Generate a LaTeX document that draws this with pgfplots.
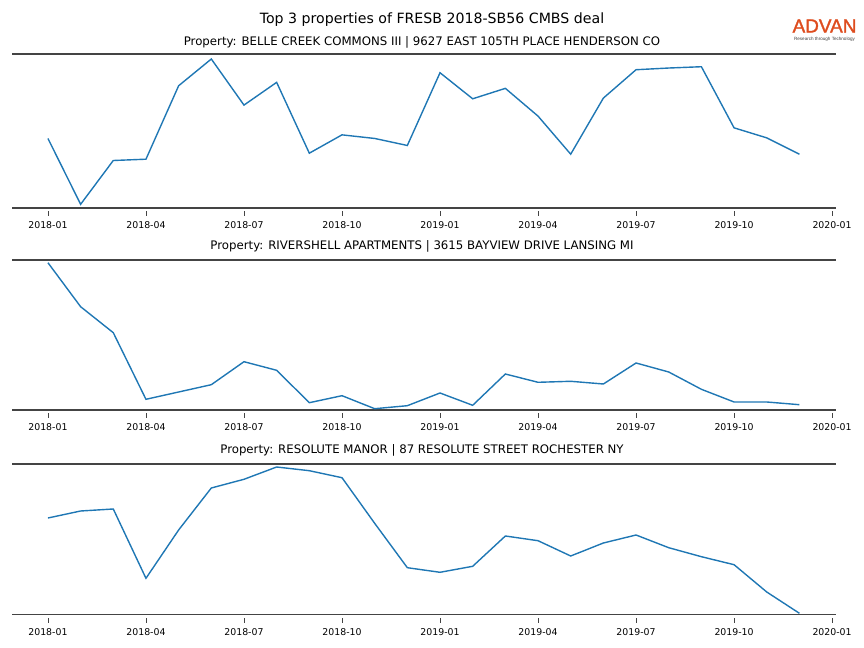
\documentclass[border=0pt]{standalone}
\usepackage{fontspec}
\setmainfont{DejaVu Sans}
\newfontfamily\logofont[FakeBold=1.6]{Liberation Sans}
\newfontfamily\logosub{Liberation Sans}
\usepackage{pgfplots}
\pgfplotsset{compat=1.18}
\definecolor{tabblue}{RGB}{31,119,180}
\definecolor{spinegray}{RGB}{68,68,68}
\definecolor{advanred}{RGB}{222,76,30}

% monthly values, 2018-01 (m=0) to 2019-12 (m=23), arbitrary units
\pgfplotstableread{
m v
0 69.4
1 3.7
2 47.4
3 48.7
4 122
5 148.7
6 102.7
7 125.4
8 54.7
9 73
10 69.4
11 62.4
12 135
13 109
14 119.4
15 91.7
16 53.7
17 109.7
18 138
19 139.7
20 141
21 80
22 70
23 53.7
}\belle
\pgfplotstableread{
m v
0 147.3
1 103.3
2 77.3
3 10.7
4 18
5 25.3
6 48.3
7 39.7
8 7.3
9 14.3
10 1.3
11 4.3
12 17
13 4.7
14 36
15 27.7
16 28.7
17 26
18 47
19 38
20 20.7
21 8
22 8
23 5.3
}\rivershell
\pgfplotstableread{
m v
0 96.7
1 103.7
2 105.7
3 36.4
4 84.7
5 126.7
6 135.4
7 147.7
8 144
9 137
10 91.4
11 47
12 42.4
13 48.4
14 78.7
15 74
16 58.7
17 71.7
18 79.7
19 67
20 58
21 50
22 22.7
23 1.4
}\resolute

\pgfplotsset{
  panel/.style={
    scale only axis,
    anchor=south west,
    width=824bp,
    xmin=-1.10, xmax=24.12,
    ymin=0,
    clip=false,
    axis lines=box,
    separate axis lines,
    y axis line style={draw=none},
    x axis line style={draw=spinegray, line width=1.4bp},
    ytick=\empty,
    xtick={0,3,...,24},
    xticklabels={2018-01,2018-04,2018-07,2018-10,2019-01,2019-04,2019-07,2019-10,2020-01},
    xtick pos=bottom,
    tick align=outside,
    major tick length=4.5bp,
    tick style={draw=spinegray, line width=0.6bp, yshift=-3.5bp},
    ticklabel style={font=\fontsize{9.4}{11}\selectfont},
    xticklabel style={yshift=-5.5bp},
  },
}

\begin{document}
\begin{tikzpicture}
\useasboundingbox (0,0) rectangle (864bp,648bp);

\begin{axis}[panel, at={(12bp,440bp)}, height=154bp, ymax=153.7]
  \addplot[color=tabblue, line width=1.4bp] table[x=m, y=v] {\belle};
\end{axis}

\begin{axis}[panel, at={(12bp,238bp)}, height=150bp, ymax=150]
  \addplot[color=tabblue, line width=1.4bp] table[x=m, y=v] {\rivershell};
\end{axis}

\begin{axis}[panel, at={(12bp,33.3bp)}, height=150.7bp, ymax=150.7]
  \addplot[color=tabblue, line width=1.4bp] table[x=m, y=v] {\resolute};
\end{axis}

% titles
\node[font=\fontsize{14.2}{17}\selectfont] at (432bp,628.5bp) {Top 3 properties of FRESB 2018-SB56 CMBS deal};
\node[font=\fontsize{11.8}{14}\selectfont] at (422bp,606bp) {Property: BELLE CREEK COMMONS III | 9627 EAST 105TH PLACE HENDERSON CO};
\node[font=\fontsize{11.8}{14}\selectfont] at (422bp,402bp) {Property: RIVERSHELL APARTMENTS | 3615 BAYVIEW DRIVE LANSING MI};
\node[font=\fontsize{11.8}{14}\selectfont] at (422bp,198bp) {Property: RESOLUTE MANOR | 87 RESOLUTE STREET ROCHESTER NY};

% logo
\node[font=\logofont\fontsize{19}{20}\selectfont, text=advanred, inner sep=0pt] at (824.5bp,622bp) {ADVAN};
\node[font=\logosub\fontsize{4.6}{5}\selectfont, text=darkgray, inner sep=0pt] at (824.5bp,609bp) {Research through Technology};
\end{tikzpicture}
\end{document}
